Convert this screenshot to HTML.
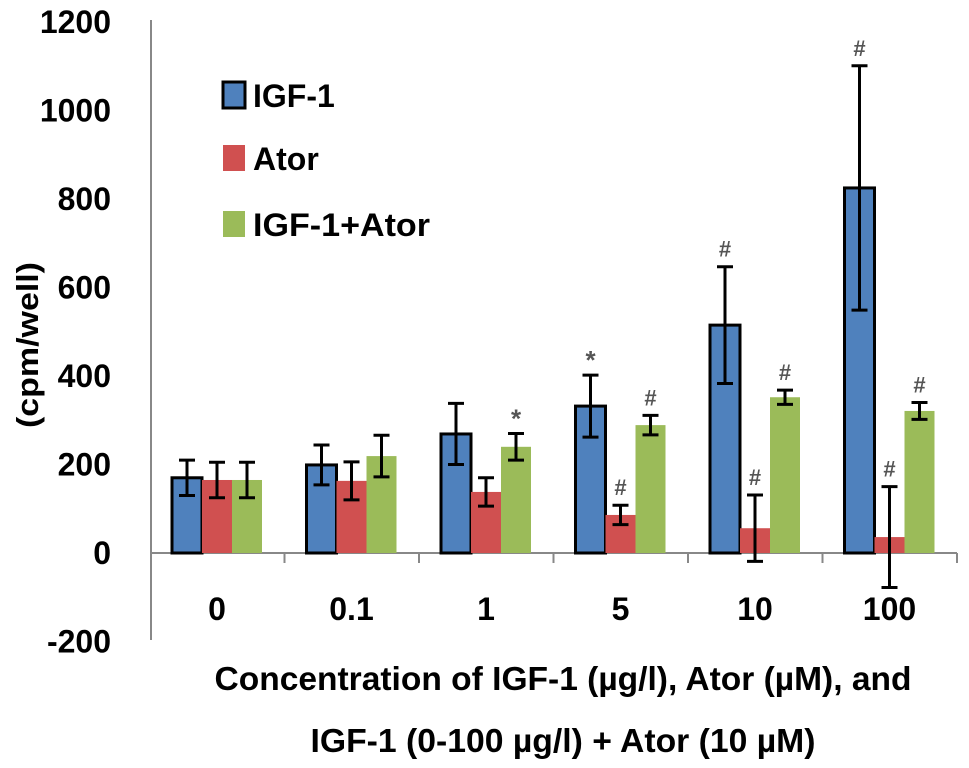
<!DOCTYPE html>
<html><head><meta charset="utf-8"><style>
body{margin:0;background:#fff;}
svg text{font-family:"Liberation Sans",Arial,sans-serif;font-weight:bold;}
</style></head><body>
<svg id="chart" width="969" height="763" viewBox="0 0 969 763" xmlns="http://www.w3.org/2000/svg">
<g id="plot"></g>
<text transform="translate(38,345) rotate(-90)" text-anchor="middle" font-size="31" textLength="166" lengthAdjust="spacingAndGlyphs">(cpm/well)</text>
<text x="563" y="690" text-anchor="middle" font-size="33" textLength="697" lengthAdjust="spacingAndGlyphs">Concentration of IGF-1 (µg/l), Ator (µM), and</text>
<text x="563" y="752" text-anchor="middle" font-size="33" textLength="505" lengthAdjust="spacingAndGlyphs">IGF-1 (0-100 µg/l) + Ator (10 µM)</text>
<g>
<rect x="223" y="82" width="22" height="26" fill="#4f81bd" stroke="#000" stroke-width="3"/>
<text x="253" y="107" font-size="32">IGF-1</text>
<rect x="223" y="145" width="22" height="26" fill="#d05050"/>
<text x="253" y="170" font-size="32">Ator</text>
<rect x="223" y="211" width="22" height="26" fill="#9bbb59"/>
<text x="253" y="236" font-size="32" textLength="177" lengthAdjust="spacingAndGlyphs">IGF-1+Ator</text>
</g>
</svg>
<script>
const categories=["0","0.1","1","5","10","100"];
const igf1=[170,199,269,332,515,825];
const igf1Err=[40,45,69,70,132,276];
const ator=[165,163,138,86,56,36];
const atorErr=[40,43,32,22,75,114];
const combo=[165,219,240,289,352,321];
const comboErr=[40,47,30,22,16,19];
const igf1Mark=["","","","*","#","#"];
const atorMark=["","","","#","#","#"];
const comboMark=["","","*","#","#","#"];
const yTicks=[-200,0,200,400,600,800,1000,1200];

const NS="http://www.w3.org/2000/svg";
const g=document.getElementById('plot');
const y0=553, ppu=0.4425;
const y=v=>y0-v*ppu;
const gx=i=>150+i*134.5;
const bw=30;
function el(t,a){const e=document.createElementNS(NS,t);for(const k in a)e.setAttribute(k,a[k]);g.appendChild(e);return e;}
let ya=el('line',{x1:151,y1:20,x2:151,y2:640,stroke:'#888','stroke-width':2});


let xa=el('line',{x1:150,y1:y0,x2:957,y2:y0,stroke:'#888','stroke-width':2});


yTicks.forEach(t=>{
 const tx=el('text',{x:111,y:y(t)+11,'text-anchor':'end','font-size':32});
 tx.textContent=t;
 
 
});
for(let i=1;i<=categories.length;i++){
 const tk=el('line',{x1:gx(i),y1:y0,x2:gx(i),y2:y0+10,stroke:'#888','stroke-width':2});
 
 
}
const series=[[igf1,igf1Err,igf1Mark,'#4f81bd',true,'igf1'],[ator,atorErr,atorMark,'#d05050',false,'ator'],[combo,comboErr,comboMark,'#9bbb59',false,'combo']];
categories.forEach((c,i)=>{
 const lb=el('text',{x:gx(i)+67,y:620,'text-anchor':'middle','font-size':32});
 lb.textContent=c;
 
 
 series.forEach((s,j)=>{
  const v=s[0][i],e=s[1][i],x=gx(i)+22+j*bw;
  const r=el('rect',{x:x,y:Math.min(y(v),y0),width:bw,height:Math.abs(y0-y(v)),fill:s[3]});
  if(s[4]){r.setAttribute('stroke','#000');r.setAttribute('stroke-width',3);}
  
  
  const cx=x+bw/2;
  const eb=el('path',{d:`M${cx},${y(v+e)}V${y(v-e)}M${cx-8},${y(v+e)}h16M${cx-8},${y(v-e)}h16`,stroke:'#000','stroke-width':3,fill:'none'});
  
  
  if(s[2][i]){
   const m=el('text',{x:cx,y:y(v+e)-(s[2][i]=='*'?6:10),'text-anchor':'middle','font-size':s[2][i]=='*'?26:22,fill:'#555'});
   m.textContent=s[2][i];
   
   
  }
 });
});
</script>
</body></html>
